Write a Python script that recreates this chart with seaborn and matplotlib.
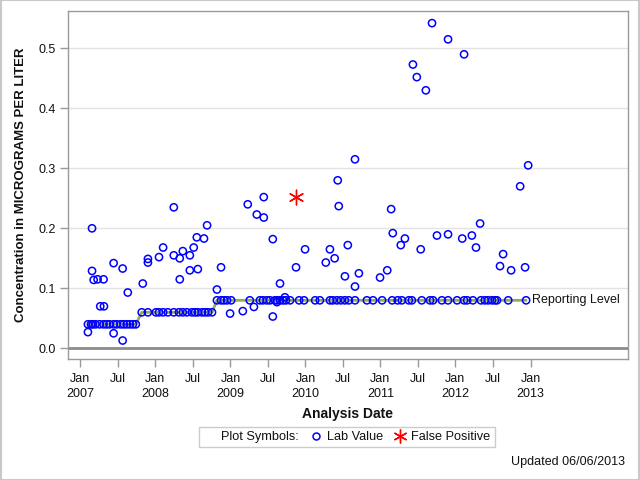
import matplotlib
matplotlib.use("Agg")
import matplotlib.pyplot as plt
import matplotlib.dates as mdates
from matplotlib.lines import Line2D
from matplotlib.patches import Rectangle
import seaborn as sns
import pandas as pd

sns.set_theme(style="white")
plt.rcParams['font.family'] = ['Liberation Sans', 'DejaVu Sans']

# ---------------- data ----------------
reporting_levels = [0.04, 0.06, 0.08]
rl_dates_004 = ["2007-02-07", "2007-02-22", "2007-03-02", "2007-03-16", "2007-04-05",
                "2007-04-24", "2007-05-09", "2007-05-23", "2007-06-12", "2007-06-27",
                "2007-07-16", "2007-07-31", "2007-08-15", "2007-08-30", "2007-09-14",
                "2007-09-28"]
rl_dates_006 = ["2007-10-27", "2007-11-26", "2008-01-04", "2008-01-19", "2008-02-08",
                "2008-03-02", "2008-03-31", "2008-04-25", "2008-05-14", "2008-06-03",
                "2008-06-27", "2008-07-12", "2008-07-26", "2008-08-15", "2008-08-30",
                "2008-09-14", "2008-10-03"]
rl_dates_008 = ["2008-10-27", "2008-11-16", "2008-11-30", "2008-12-15", "2009-01-04",
                "2009-04-05", "2009-05-24", "2009-06-08", "2009-06-27", "2009-07-12",
                "2009-08-05", "2009-08-15", "2009-08-30", "2009-09-14", "2009-09-28",
                "2009-10-18", "2009-12-01", "2009-12-25", "2010-02-17", "2010-03-12",
                "2010-04-30", "2010-05-14", "2010-06-03", "2010-06-22", "2010-07-12",
                "2010-07-31", "2010-08-30", "2010-10-27", "2010-11-26", "2011-01-09",
                "2011-02-27", "2011-03-26", "2011-04-15", "2011-05-19", "2011-06-03",
                "2011-07-21", "2011-08-30", "2011-09-14", "2011-10-27", "2011-11-26",
                "2012-01-09", "2012-02-12", "2012-02-27", "2012-03-26", "2012-05-04",
                "2012-05-23", "2012-06-08", "2012-06-27", "2012-07-11", "2012-07-21",
                "2012-09-14", "2012-12-10"]

lab_dates = ["2007-02-07", "2007-02-27", "2007-02-27", "2007-03-07", "2007-03-26",
             "2007-04-24", "2007-04-08", "2007-04-26", "2007-06-12", "2007-06-12",
             "2007-07-26", "2007-07-26", "2007-08-20", "2007-11-01", "2007-11-26",
             "2007-11-26", "2008-01-19", "2008-02-08", "2008-03-31", "2008-03-31",
             "2008-04-29", "2008-04-29", "2008-05-14", "2008-06-17", "2008-06-17",
             "2008-07-06", "2008-07-21", "2008-07-26", "2008-08-25", "2008-09-09",
             "2008-10-27", "2008-11-16", "2008-12-30", "2009-03-02", "2009-03-26",
             "2009-04-25", "2009-05-09", "2009-06-12", "2009-06-12", "2009-07-26",
             "2009-07-26", "2009-08-15", "2009-08-30", "2009-09-23", "2009-11-16",
             "2009-12-30", "2010-04-10", "2010-04-30", "2010-05-23", "2010-06-07",
             "2010-06-12", "2010-07-12", "2010-07-26", "2010-08-30", "2010-08-30",
             "2010-09-18", "2010-12-30", "2011-02-03", "2011-02-22", "2011-03-02",
             "2011-04-10", "2011-04-30", "2011-06-08", "2011-06-27", "2011-07-16",
             "2011-08-10", "2011-09-09", "2011-10-03", "2011-11-26", "2011-11-26",
             "2012-02-03", "2012-02-12", "2012-03-21", "2012-04-10", "2012-04-30",
             "2012-08-05", "2012-08-20", "2012-09-28", "2012-11-11", "2012-12-05",
             "2012-12-20"]
lab_values = [0.027, 0.200, 0.129, 0.114, 0.115,
              0.115, 0.070, 0.070, 0.142, 0.025,
              0.133, 0.013, 0.093, 0.108, 0.149,
              0.143, 0.152, 0.168, 0.235, 0.155,
              0.150, 0.115, 0.162, 0.155, 0.130,
              0.168, 0.185, 0.132, 0.183, 0.205,
              0.098, 0.135, 0.058, 0.062, 0.240,
              0.069, 0.223, 0.252, 0.218, 0.182,
              0.053, 0.077, 0.108, 0.085, 0.135,
              0.165, 0.143, 0.165, 0.150, 0.280,
              0.237, 0.120, 0.172, 0.315, 0.103,
              0.125, 0.118, 0.130, 0.232, 0.192,
              0.172, 0.183, 0.473, 0.452, 0.165,
              0.430, 0.542, 0.188, 0.515, 0.190,
              0.183, 0.490, 0.188, 0.168, 0.208,
              0.137, 0.157, 0.130, 0.270, 0.135,
              0.305]

fp_dates = ["2009-11-16"]
fp_values = [0.252]

y_ticks = [0.0, 0.1, 0.2, 0.3, 0.4, 0.5]
x_tick_dates = ["2007-01-01", "2007-07-01", "2008-01-01", "2008-07-01", "2009-01-01",
                "2009-07-01", "2010-01-01", "2010-07-01", "2011-01-01", "2011-07-01",
                "2012-01-01", "2012-07-01", "2013-01-01"]
x_tick_labels = ["Jan\n2007", "Jul", "Jan\n2008", "Jul", "Jan\n2009", "Jul",
                 "Jan\n2010", "Jul", "Jan\n2011", "Jul", "Jan\n2012", "Jul",
                 "Jan\n2013"]

# ---------------- tables ----------------
rl_df = pd.DataFrame({
    "date": pd.to_datetime(rl_dates_004 + rl_dates_006 + rl_dates_008),
    "value": ([reporting_levels[0]] * len(rl_dates_004)
              + [reporting_levels[1]] * len(rl_dates_006)
              + [reporting_levels[2]] * len(rl_dates_008)),
})
lab_df = pd.DataFrame({"date": pd.to_datetime(lab_dates), "value": lab_values})
fp_df = pd.DataFrame({"date": pd.to_datetime(fp_dates), "value": fp_values})

# ---------------- figure ----------------
fig = plt.figure(figsize=(6.4, 4.8), dpi=100)
ax = fig.add_axes([68 / 640, 1 - 359 / 480, 560 / 640, 348 / 480])

gray_axis = "#9a9a9a"
for yv in y_ticks[1:]:
    ax.axhline(yv, color="#e3e3e3", lw=1.0, zorder=0)
ax.axhline(0.0, color="#8c8c8c", lw=2.0, zorder=1)

sns.lineplot(data=rl_df, x="date", y="value", ax=ax, color="#93ad55",
             lw=2.0, zorder=2, legend=False, estimator=None, sort=False)
sns.scatterplot(data=rl_df, x="date", y="value", ax=ax, marker="o", s=27,
                facecolor="none", edgecolor="#0000ff", linewidth=1.1, zorder=3)
sns.scatterplot(data=lab_df, x="date", y="value", ax=ax, marker="o", s=27,
                facecolor="none", edgecolor="#0000ff", linewidth=1.1, zorder=3)
sns.scatterplot(data=fp_df, x="date", y="value", ax=ax, marker=(6, 2, 0), s=110,
                color="#ff0000", edgecolor="#ff0000", linewidth=1.0, zorder=4)

last = rl_df.iloc[-1]
ax.annotate("Reporting Level", xy=(last["date"], last["value"]), xytext=(4, 0),
            textcoords="offset points", va="center", ha="left", fontsize=9,
            color="#111111")

ax.set_xlim(pd.Timestamp("2006-11-02"), pd.Timestamp("2014-04-20"))
ax.set_ylim(-0.0178, 0.5622)
ax.set_yticks(y_ticks)
ax.set_yticklabels([f"{v:.1f}" for v in y_ticks])
ax.set_xticks(pd.to_datetime(x_tick_dates))
ax.set_xticklabels(x_tick_labels, linespacing=1.35)

ax.tick_params(axis="both", which="major", direction="out", length=6, width=1,
               color=gray_axis, labelsize=9, labelcolor="#111111", pad=3,
               bottom=True, left=True)
ax.tick_params(axis="x", pad=4)
for sp in ax.spines.values():
    sp.set_color(gray_axis)
    sp.set_linewidth(1.0)

ax.set_xlabel("Analysis Date", fontsize=10, fontweight="bold", labelpad=5,
              color="#111111")
ax.set_ylabel("Concentration in MICROGRAMS PER LITER", fontsize=9.5,
              fontweight="bold", labelpad=8, color="#111111")

handles = [Line2D([], [], linestyle="none", marker=None),
           Line2D([], [], linestyle="none", marker="o", markersize=5,
                  markerfacecolor="none", markeredgecolor="#0000ff", markeredgewidth=1.1),
           Line2D([], [], linestyle="none", marker=(6, 2, 0), markersize=10,
                  color="#ff0000", markeredgewidth=1.0)]
labels = ["Plot Symbols:", "Lab Value", "False Positive"]
leg = fig.legend(handles, labels, loc="center", bbox_to_anchor=(347 / 640, 1 - 437 / 480),
                 ncol=3, frameon=True, fontsize=9.2, handlelength=1.0,
                 handletextpad=0.4, columnspacing=0.8, borderpad=0.35,
                 fancybox=False)
leg.get_frame().set_edgecolor("#c0c0c0")
leg.get_frame().set_linewidth(1.0)
for t in leg.get_texts():
    t.set_color("#111111")

fig.text(625 / 640, 1 - 462 / 480, "Updated 06/06/2013", ha="right", va="center",
         fontsize=9, color="#111111")

fig.patches.append(Rectangle((0.0008, 0.001), 0.998, 0.998, transform=fig.transFigure,
                             fill=False, edgecolor="#c8c8c8", lw=1.5))

fig.savefig("out.png", dpi=100)
